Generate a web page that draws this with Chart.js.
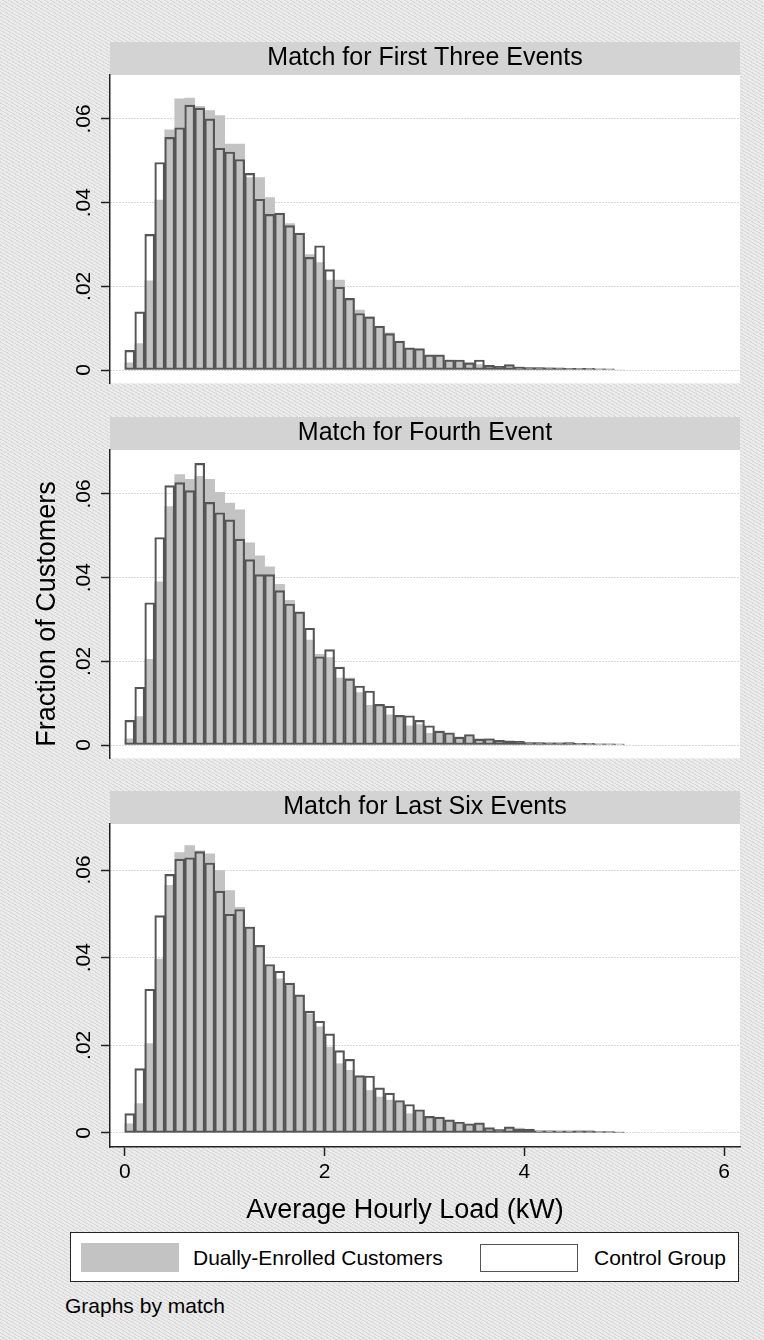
<!DOCTYPE html>
<html>
<head>
<meta charset="utf-8">
<script src="https://cdn.jsdelivr.net/npm/chart.js@4.4.1/dist/chart.umd.min.js"></script>
<style>
  html, body { margin: 0; padding: 0; }
  body {
    width: 764px; height: 1340px; position: relative; overflow: hidden;
    font-family: "Liberation Sans", Arial, sans-serif;
    background: repeating-linear-gradient(30deg, #d8d8d8 0px, #d8d8d8 1px, #ececec 1px, #ececec 3px);
  }
  canvas { position: absolute; left: 0; }
  .lbl { position: absolute; white-space: nowrap; color: #000; }
</style>
</head>
<body>
<canvas id="p1" width="764" height="356" style="top:42px"></canvas>
<canvas id="p2" width="764" height="356" style="top:417px"></canvas>
<canvas id="p3" width="764" height="409" style="top:791px"></canvas>
<div id="labels"></div>
<script>
// histogram bins (lower edges, kW)
const binLow = [0.0, 0.1, 0.2, 0.3, 0.4, 0.5, 0.6, 0.7, 0.8, 0.9,
                1.0, 1.1, 1.2, 1.3, 1.4, 1.5, 1.6, 1.7, 1.8, 1.9,
                2.0, 2.1, 2.2, 2.3, 2.4, 2.5, 2.6, 2.7, 2.8, 2.9,
                3.0, 3.1, 3.2, 3.3, 3.4, 3.5, 3.6, 3.7, 3.8, 3.9,
                4.0, 4.1, 4.2, 4.3, 4.4, 4.5, 4.6, 4.7, 4.8, 4.9];
const binWidth = 0.1;

const panelTitles = ['Match for First Three Events', 'Match for Fourth Event', 'Match for Last Six Events'];
const seriesNames = ['Dually-Enrolled Customers', 'Control Group'];

// fraction of customers per bin
const dualFirst3 = [0.0017, 0.0063, 0.0213, 0.0406, 0.0574, 0.0648, 0.0650, 0.0630, 0.0620, 0.0608,
                    0.0540, 0.0540, 0.0460, 0.0460, 0.0412, 0.0370, 0.0350, 0.0326, 0.0276, 0.0257,
                    0.0215, 0.0215, 0.0170, 0.0143, 0.0127, 0.0100, 0.0089, 0.0068, 0.0051, 0.0047,
                    0.0034, 0.0032, 0.0024, 0.0020, 0.0018, 0.0013, 0.0011, 0.0009, 0.0008, 0.0007,
                    0.0006, 0.0005, 0.0005, 0.0004, 0.0004, 0.0003, 0.0003, 0.0003, 0.0002, 0];
const ctrlFirst3 = [0.0047, 0.0139, 0.0324, 0.0496, 0.0556, 0.0579, 0.0633, 0.0626, 0.0600, 0.0530,
                    0.0521, 0.0503, 0.0470, 0.0408, 0.0372, 0.0375, 0.0345, 0.0327, 0.0269, 0.0297,
                    0.0240, 0.0198, 0.0171, 0.0135, 0.0127, 0.0105, 0.0087, 0.0069, 0.0053, 0.0051,
                    0.0036, 0.0036, 0.0024, 0.0024, 0.0017, 0.0024, 0.0011, 0.0009, 0.0013, 0.0007,
                    0.0006, 0.0006, 0.0005, 0.0005, 0.0004, 0.0004, 0.0004, 0.0003, 0.0003, 0];

const dualFourth = [0.0015, 0.0068, 0.0205, 0.0390, 0.0570, 0.0646, 0.0635, 0.0642, 0.0635, 0.0604,
                    0.0578, 0.0562, 0.0483, 0.0452, 0.0426, 0.0384, 0.0346, 0.0315, 0.0251, 0.0217,
                    0.0209, 0.0160, 0.0160, 0.0125, 0.0095, 0.0097, 0.0072, 0.0068, 0.0046, 0.0049,
                    0.0028, 0.0033, 0.0023, 0.0019, 0.0019, 0.0015, 0.0015, 0.0011, 0.0009, 0.0008,
                    0.0006, 0.0005, 0.0005, 0.0005, 0.0005, 0.0004, 0.0003, 0.0003, 0.0003, 0.0002];
const ctrlFourth = [0.0059, 0.0138, 0.0340, 0.0496, 0.0620, 0.0627, 0.0608, 0.0673, 0.0580, 0.0555,
                    0.0538, 0.0492, 0.0443, 0.0407, 0.0407, 0.0369, 0.0337, 0.0318, 0.0279, 0.0211,
                    0.0228, 0.0186, 0.0158, 0.0141, 0.0129, 0.0097, 0.0093, 0.0071, 0.0070, 0.0059,
                    0.0046, 0.0033, 0.0029, 0.0019, 0.0025, 0.0014, 0.0015, 0.0011, 0.0010, 0.0009,
                    0.0006, 0.0006, 0.0005, 0.0005, 0.0006, 0.0004, 0.0004, 0.0003, 0.0003, 0.0002];

const dualLast6 = [0.0021, 0.0067, 0.0204, 0.0397, 0.0565, 0.0640, 0.0656, 0.0644, 0.0637, 0.0599,
                   0.0553, 0.0515, 0.0470, 0.0424, 0.0378, 0.0352, 0.0337, 0.0314, 0.0272, 0.0242,
                   0.0196, 0.0158, 0.0143, 0.0128, 0.0097, 0.0082, 0.0075, 0.0070, 0.0044, 0.0052,
                   0.0036, 0.0034, 0.0029, 0.0023, 0.0020, 0.0021, 0.0013, 0.0008, 0.0011, 0.0011,
                   0.0008, 0.0005, 0.0005, 0.0004, 0.0004, 0.0006, 0.0006, 0.0003, 0.0003, 0.0002];
const ctrlLast6 = [0.0044, 0.0147, 0.0328, 0.0496, 0.0590, 0.0625, 0.0628, 0.0642, 0.0616, 0.0552,
                   0.0499, 0.0510, 0.0470, 0.0428, 0.0384, 0.0369, 0.0342, 0.0315, 0.0278, 0.0255,
                   0.0226, 0.0188, 0.0168, 0.0131, 0.0130, 0.0103, 0.0091, 0.0074, 0.0065, 0.0053,
                   0.0038, 0.0036, 0.0030, 0.0025, 0.0021, 0.0023, 0.0012, 0.0008, 0.0014, 0.0009,
                   0.0009, 0.0005, 0.0005, 0.0005, 0.0005, 0.0004, 0.0004, 0.0003, 0.0003, 0.0002];

const yTicks = [0, 0.02, 0.04, 0.06];
const xTicks = [0, 2, 4, 6];

const FONT = '"Liberation Sans", Arial, sans-serif';
const GRAY = '#c3c3c3';
const EDGE = '#555555';

function toPoints(vals) {
  return binLow.map((b, i) => ({ x: b + binWidth / 2, y: vals[i] }));
}

// white plot region + grey title strip
const panelBg = {
  id: 'panelBg',
  beforeDraw(chart) {
    const { ctx, chartArea: a, titleBlock: t } = chart;
    ctx.save();
    ctx.fillStyle = '#ffffff';
    ctx.fillRect(a.left, a.top, a.right - a.left, a.bottom - a.top);
    ctx.fillStyle = '#d3d3d3';
    ctx.fillRect(a.left, t.top, a.right - a.left, t.bottom - t.top);
    ctx.restore();
  }
};

function makePanel(id, title, dual, ctrl, showX) {
  return new Chart(document.getElementById(id), {
    type: 'bar',
    data: {
      datasets: [
        { label: seriesNames[1], data: toPoints(ctrl), backgroundColor: 'rgba(0,0,0,0)',
          borderColor: EDGE, borderWidth: 1.5, borderSkipped: false, order: 0 },
        { label: seriesNames[0], data: toPoints(dual), backgroundColor: GRAY,
          borderWidth: 0, order: 1 }
      ]
    },
    options: {
      responsive: false,
      animation: false,
      layout: { padding: { left: 0, right: 24, top: 0, bottom: 0 } },
      datasets: { bar: { grouped: false, barPercentage: 1, categoryPercentage: 1 } },
      plugins: {
        legend: { display: false },
        tooltip: { enabled: false },
        title: {
          display: true, text: title, fullSize: false, color: '#000',
          font: { family: FONT, size: 25, weight: 'normal' },
          padding: { top: 1, bottom: 2 }
        }
      },
      scales: {
        x: {
          type: 'linear', min: -0.148, max: 6.159, offset: false, display: showX,
          afterBuildTicks: s => { s.ticks = xTicks.map(v => ({ value: v })); },
          afterFit: s => { s.height = showX ? 53 : 0; },
          grid: { drawOnChartArea: false, offset: false, tickLength: 9, tickColor: '#222', tickWidth: 1.5 },
          border: { display: true, color: '#222', width: 1.5 },
          ticks: { color: '#000', font: { family: FONT, size: 21 }, padding: 4, maxRotation: 0, autoSkip: false }
        },
        y: {
          min: -0.0032, max: 0.0705,
          afterBuildTicks: s => { s.ticks = yTicks.map(v => ({ value: v })); },
          afterFit: s => { s.width = 110; },
          grid: { color: '#b0b0b0', lineWidth: 1, tickLength: 9, tickColor: '#222', tickWidth: 1.5 },
          border: { display: true, color: '#222', width: 1.5, dash: [1, 2] },
          ticks: {
            color: '#000', font: { family: FONT, size: 21 }, padding: 2,
            minRotation: 90, maxRotation: 90, crossAlign: 'center',
            callback: v => v === 0 ? '0' : v.toFixed(2).replace(/^0/, '')
          }
        }
      }
    },
    plugins: [panelBg]
  });
}

makePanel('p1', panelTitles[0], dualFirst3, ctrlFirst3, false);
makePanel('p2', panelTitles[1], dualFourth, ctrlFourth, false);
makePanel('p3', panelTitles[2], dualLast6, ctrlLast6, true);

// axis titles, legend and note
const box = document.getElementById('labels');
function addDiv(style, text) {
  const d = document.createElement('div');
  d.className = 'lbl';
  d.setAttribute('style', style);
  if (text) d.textContent = text;
  box.appendChild(d);
  return d;
}
addDiv('left:-154px;top:599px;width:400px;height:30px;line-height:30px;font-size:27px;text-align:center;transform:rotate(-90deg);', 'Fraction of Customers');
addDiv('left:155px;top:1194px;width:500px;height:30px;line-height:30px;font-size:27px;text-align:center;', 'Average Hourly Load (kW)');
addDiv('left:70px;top:1232px;width:669px;height:50px;box-sizing:border-box;border:1.5px solid #222;background:#fff;', '');
addDiv('left:81px;top:1243px;width:98px;height:29px;background:' + GRAY + ';', '');
addDiv('left:193px;top:1246px;font-size:21px;line-height:24px;', seriesNames[0]);
addDiv('left:480px;top:1244px;width:98px;height:28px;box-sizing:border-box;border:1.5px solid ' + EDGE + ';background:#fff;', '');
addDiv('left:594px;top:1246px;font-size:21px;line-height:24px;', seriesNames[1]);
addDiv('left:65px;top:1294px;font-size:21px;line-height:24px;', 'Graphs by match');
</script>
</body>
</html>
